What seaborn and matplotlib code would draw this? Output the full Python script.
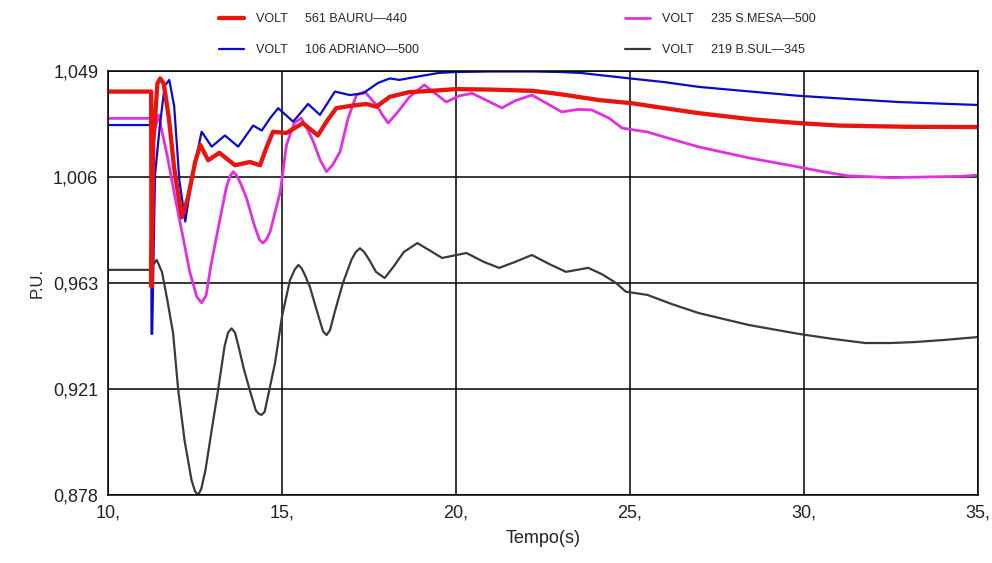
import numpy as np
import pandas as pd
import matplotlib
matplotlib.use("Agg")
import matplotlib.pyplot as plt
import seaborn as sns
from matplotlib.lines import Line2D

# ---------------- data ----------------
t_red = [10.0, 11.24, 11.25, 11.30, 11.42, 11.50, 11.60, 11.75, 11.90, 12.12, 12.30, 12.50, 12.65,
         12.88, 13.20, 13.65, 14.08, 14.37, 14.55, 14.74, 15.13, 15.60, 16.03, 16.30, 16.56, 17.00,
         17.42, 17.71, 18.10, 18.66, 19.30, 20.00, 21.00, 22.20, 22.80, 23.16, 24.10, 25.05, 26.00,
         26.97, 28.50, 29.84, 31.00, 31.76, 33.00, 35.00]
v_red = [1.0407, 1.0407, 0.962, 1.020, 1.044, 1.046, 1.044, 1.030, 1.010, 0.990, 0.998, 1.012, 1.0192,
         1.013, 1.016, 1.011, 1.0123, 1.011, 1.018, 1.0245, 1.024, 1.028, 1.023, 1.029, 1.034, 1.035,
         1.0357, 1.0346, 1.0386, 1.0405, 1.041, 1.0417, 1.0415, 1.041, 1.040, 1.0393, 1.0373, 1.036, 1.034,
         1.032, 1.0295, 1.028, 1.027, 1.0268, 1.0265, 1.0264]

t_blue = [10.0, 11.24, 11.25, 11.27, 11.35, 11.49, 11.63, 11.76, 11.90, 12.05, 12.22, 12.40, 12.69,
          12.98, 13.36, 13.74, 14.17, 14.42, 14.66, 14.89, 15.32, 15.75, 16.09, 16.52, 16.95, 17.33,
          17.76, 18.10, 18.37, 19.00, 19.50, 20.00, 21.00, 22.20, 23.00, 23.60, 24.10, 25.00, 26.00,
          26.97, 28.40, 29.84, 31.30, 32.70, 34.00, 35.00]
v_blue = [1.0272, 1.0272, 0.943, 0.943, 1.007, 1.027, 1.043, 1.0454, 1.035, 1.005, 0.9883, 1.005, 1.0245,
          1.0185, 1.023, 1.0185, 1.027, 1.025, 1.030, 1.034, 1.0286, 1.0357, 1.0313, 1.0407, 1.0393, 1.040,
          1.0442, 1.046, 1.0454, 1.047, 1.0482, 1.0486, 1.0488, 1.0488, 1.0486, 1.0482, 1.0474, 1.046, 1.0445,
          1.0426, 1.0408, 1.039, 1.0377, 1.0365, 1.0358, 1.0353]

t_mag = [10.0, 11.24, 11.25, 11.45, 11.70, 11.90, 12.07, 12.35, 12.55, 12.69, 12.82, 12.95, 13.20,
         13.40, 13.50, 13.60, 13.70, 13.80, 13.98, 14.20, 14.35, 14.45, 14.55, 14.66, 14.95, 15.13,
         15.35, 15.55, 15.75, 15.90, 16.10, 16.28, 16.45, 16.67, 16.90, 17.14, 17.35, 17.42, 17.71,
         17.90, 18.05, 18.30, 18.66, 19.09, 19.40, 19.72, 20.10, 20.46, 20.90, 21.32, 21.70, 22.18,
         22.60, 23.04, 23.50, 23.90, 24.40, 24.77, 25.50, 26.20, 26.97, 28.40, 29.84, 30.50, 31.27,
         32.50, 33.65, 34.50, 35.00]
v_mag = [1.0299, 1.0299, 1.020, 1.0313, 1.015, 1.000, 0.988, 0.968, 0.958, 0.9555, 0.9585, 0.970, 0.988,
         1.002, 1.0065, 1.0084, 1.0068, 1.004, 0.9978, 0.987, 0.981, 0.9796, 0.981, 0.9842, 1.0003, 1.0192,
         1.028, 1.030, 1.025, 1.0205, 1.013, 1.0084, 1.011, 1.0165, 1.030, 1.0393, 1.0405, 1.040, 1.0353,
         1.031, 1.028, 1.032, 1.0385, 1.0434, 1.040, 1.0365, 1.039, 1.040, 1.037, 1.0341, 1.037, 1.0393,
         1.036, 1.0325, 1.0335, 1.0333, 1.030, 1.026, 1.0244, 1.0215, 1.0184, 1.014, 1.0103, 1.0085, 1.0067,
         1.006, 1.0063, 1.0065, 1.007]

t_blk = [10.0, 11.24, 11.30, 11.40, 11.55, 11.70, 11.87, 12.02, 12.20, 12.40, 12.50, 12.59, 12.68,
         12.80, 13.00, 13.16, 13.35, 13.45, 13.55, 13.65, 13.75, 13.90, 14.08, 14.25, 14.33, 14.41,
         14.50, 14.60, 14.80, 15.00, 15.23, 15.37, 15.47, 15.56, 15.65, 15.80, 16.05, 16.18, 16.28,
         16.38, 16.50, 16.75, 17.00, 17.12, 17.24, 17.36, 17.50, 17.70, 17.95, 18.20, 18.50, 18.89,
         19.20, 19.60, 20.30, 20.80, 21.24, 21.70, 22.18, 22.70, 23.16, 23.80, 24.20, 24.60, 24.88,
         25.50, 26.20, 26.97, 28.40, 29.84, 30.80, 31.76, 32.50, 33.20, 34.00, 35.00]
v_blk = [0.9688, 0.9688, 0.971, 0.9728, 0.968, 0.957, 0.9433, 0.920, 0.900, 0.884, 0.8795, 0.878, 0.8805,
         0.888, 0.906, 0.920, 0.938, 0.9435, 0.9452, 0.9435, 0.938, 0.929, 0.920, 0.912, 0.9108, 0.9103,
         0.9115, 0.918, 0.9313, 0.950, 0.9647, 0.969, 0.9708, 0.9695, 0.967, 0.962, 0.950, 0.944, 0.9425,
         0.9445, 0.951, 0.9635, 0.973, 0.976, 0.9775, 0.976, 0.973, 0.968, 0.9655, 0.970, 0.976, 0.9796,
         0.977, 0.9736, 0.9756, 0.972, 0.9696, 0.972, 0.9748, 0.971, 0.968, 0.9696, 0.967, 0.9635, 0.960,
         0.9587, 0.955, 0.9514, 0.9466, 0.943, 0.941, 0.9393, 0.9393, 0.9397, 0.9405, 0.9417]

labels = ["VOLT     561 BAURU\u2014440", "VOLT     106 ADRIANO\u2014500",
          "VOLT     235 S.MESA\u2014500", "VOLT     219 B.SUL\u2014345"]
x_ticks = [10, 15, 20, 25, 30, 35]
x_ticklabels = ["10,", "15,", "20,", "25,", "30,", "35,"]
y_ticks = [0.878, 0.92075, 0.9635, 1.00625, 1.049]
y_ticklabels = ["0,878", "0,921", "0,963", "1,006", "1,049"]

# ---------------- plot ----------------
sns.set_style("white")
plt.rcParams["font.family"] = ["Liberation Sans", "DejaVu Sans"]

fig = plt.figure(figsize=(9.92, 5.63), dpi=100)
ax = fig.add_axes([108 / 992, (563 - 495) / 563, (978 - 108) / 992, (495 - 71) / 563])

series = [
    (t_red, v_red, "#e8150f", 3.1),
    (t_blue, v_blue, "#0a0ac8", 1.6),
    (t_mag, v_mag, "#e030e0", 2.0),
    (t_blk, v_blk, "#3a3a3a", 1.6),
]
draw_order = [3, 2, 1, 0]
for i in draw_order:
    t, v, c, lw = series[i]
    df = pd.DataFrame({"t": t, "v": v})
    sns.lineplot(data=df, x="t", y="v", ax=ax, color=c, linewidth=lw,
                 estimator=None, sort=False, legend=False)

ax.set_xlim(10, 35)
ax.set_ylim(0.878, 1.049)
ax.set_xticks(x_ticks)
ax.set_xticklabels(x_ticklabels, fontsize=13)
ax.set_yticks(y_ticks)
ax.set_yticklabels(y_ticklabels, fontsize=13)
ax.tick_params(axis="both", direction="out", length=4, width=1, color="black",
               labelcolor="#222222", pad=3)
ax.grid(True, color="black", linewidth=1.1)
for s in ax.spines.values():
    s.set_color("black")
    s.set_linewidth(1.1)
ax.set_xlabel("Tempo(s)", fontsize=13, color="#222222", labelpad=6)
ax.set_ylabel("P.U.", fontsize=12, color="#222222", labelpad=6)

handles = [Line2D([], [], color=c, linewidth=lw) for (_, _, c, lw) in series]
leg1 = fig.legend(handles[:2], labels[:2], loc="upper left",
                  bbox_to_anchor=(208 / 992, 1 - 2 / 563), frameon=False,
                  fontsize=9, handlelength=2.0, labelspacing=1.5, handletextpad=0.9)
leg2 = fig.legend(handles[2:], labels[2:], loc="upper left",
                  bbox_to_anchor=(614 / 992, 1 - 2 / 563), frameon=False,
                  fontsize=9, handlelength=2.0, labelspacing=1.5, handletextpad=0.9)

fig.savefig("out.png", dpi=100)
